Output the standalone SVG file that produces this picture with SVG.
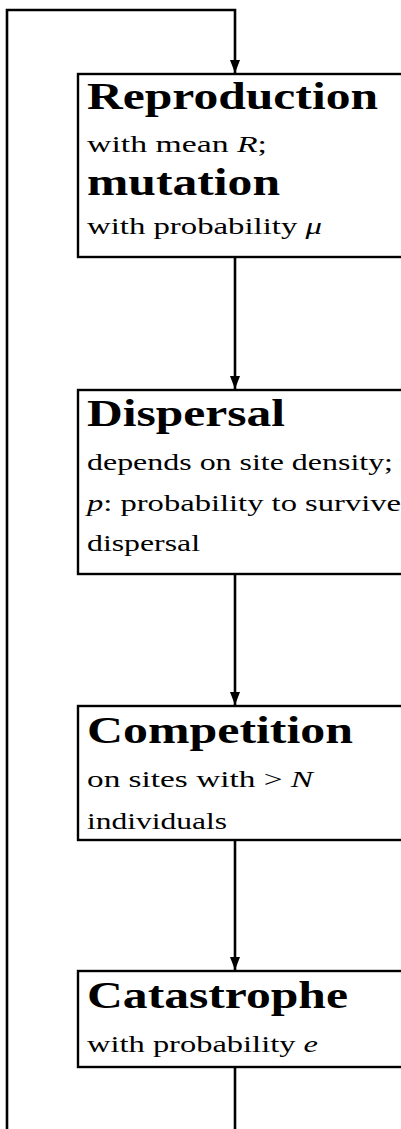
<svg xmlns="http://www.w3.org/2000/svg" width="401" height="1129" viewBox="0 0 401 1129">
<style>
.box{fill:#fff;stroke:#000;stroke-width:2.4}
.t{font-family:"Liberation Serif","DejaVu Serif",serif;font-weight:bold;font-size:37px;fill:#000}
.b{font-family:"Liberation Serif","DejaVu Serif",serif;font-size:23px;fill:#000}
.i{font-style:italic}
.c{fill:none;stroke:#000;stroke-width:2.6}
</style>
<defs>
<marker id="ah" markerWidth="13" markerHeight="10" refX="13" refY="5" orient="auto" markerUnits="userSpaceOnUse" viewBox="0 0 13 10">
<path d="M0,0 L13,5 L0,10 Z" fill="#000"/>
</marker>
</defs>
<g id="connectors">
<path class="c" d="M7,1129 V10 H235 V73" marker-end="url(#ah)"/>
<path class="c" d="M235,257 V389" marker-end="url(#ah)"/>
<path class="c" d="M235,574 V705" marker-end="url(#ah)"/>
<path class="c" d="M235,840 V970" marker-end="url(#ah)"/>
<path class="c" d="M235,1067 V1129"/>
</g>
<g id="reproduction">
<rect class="box" x="78" y="74" width="340" height="183"/>
<text class="t" x="87" y="109" textLength="291" lengthAdjust="spacingAndGlyphs">Reproduction</text>
<text class="b" x="87" y="152" textLength="180" lengthAdjust="spacingAndGlyphs">with mean <tspan class="i">R</tspan>;</text>
<text class="t" x="87" y="195" textLength="193" lengthAdjust="spacingAndGlyphs">mutation</text>
<text class="b" x="87" y="234" textLength="235" lengthAdjust="spacingAndGlyphs">with probability <tspan class="i">μ</tspan></text>
</g>
<g id="dispersal">
<rect class="box" x="78" y="390" width="340" height="184"/>
<text class="t" x="87" y="426" textLength="198" lengthAdjust="spacingAndGlyphs">Dispersal</text>
<text class="b" x="87" y="470" textLength="306" lengthAdjust="spacingAndGlyphs">depends on site density;</text>
<text class="b" x="87" y="511" textLength="314" lengthAdjust="spacingAndGlyphs"><tspan class="i">p</tspan>: probability to survive</text>
<text class="b" x="87" y="551" textLength="113" lengthAdjust="spacingAndGlyphs">dispersal</text>
</g>
<g id="competition">
<rect class="box" x="78" y="706" width="340" height="134"/>
<text class="t" x="87" y="743" textLength="266" lengthAdjust="spacingAndGlyphs">Competition</text>
<text class="b" x="87" y="787" textLength="226" lengthAdjust="spacingAndGlyphs">on sites with &gt; <tspan class="i">N</tspan></text>
<text class="b" x="87" y="829" textLength="140" lengthAdjust="spacingAndGlyphs">individuals</text>
</g>
<g id="catastrophe">
<rect class="box" x="78" y="971" width="340" height="96"/>
<text class="t" x="87" y="1008" textLength="261" lengthAdjust="spacingAndGlyphs">Catastrophe</text>
<text class="b" x="87" y="1052" textLength="231" lengthAdjust="spacingAndGlyphs">with probability <tspan class="i">e</tspan></text>
</g>
</svg>
